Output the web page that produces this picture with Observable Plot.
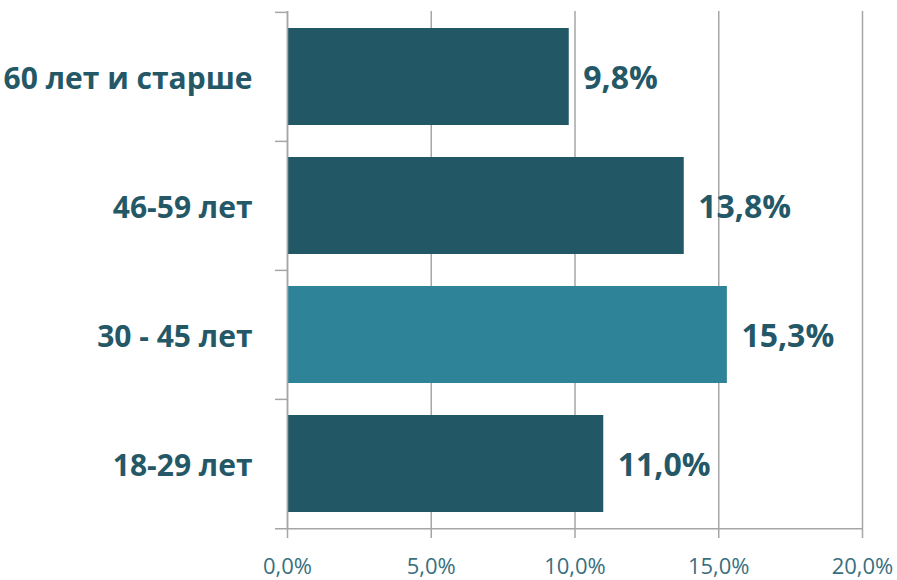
<!DOCTYPE html>
<html>
<head>
<meta charset="utf-8">
<script src="https://cdn.jsdelivr.net/npm/d3@7"></script>
<script src="https://cdn.jsdelivr.net/npm/@observablehq/plot@0.6"></script>
<style>
  html, body { margin: 0; padding: 0; background: #fff; }
  #chart { width: 897px; height: 580px; }
</style>
</head>
<body>
<div id="chart"></div>
<script>
const categories = ["60 лет и старше", "46-59 лет", "30 - 45 лет", "18-29 лет"];
const values = [9.8, 13.8, 15.3, 11.0];
const highlighted = [false, false, true, false];
const xTicks = [0, 5, 10, 15, 20];

const data = categories.map((c, i) => ({category: c, value: values[i], hi: highlighted[i]}));
const fmt = d => d.toFixed(1).replace(".", ",") + "%";

const W = 897, H = 580;
const mTop = 11, mBottom = 52, mLeft = 287, mRight = 35;
const step = (H - mTop - mBottom) / categories.length;

const chart = Plot.plot({
  width: W,
  height: H,
  marginTop: mTop,
  marginBottom: mBottom,
  marginLeft: mLeft,
  marginRight: mRight,
  style: {fontFamily: "'Open Sans', sans-serif", background: "#fff", overflow: "visible"},
  x: {domain: [0, 20]},
  y: {domain: categories, paddingInner: 0.25, paddingOuter: 0.125},
  marks: [
    Plot.gridX(xTicks, {stroke: "#a6a6a6", strokeOpacity: 1, strokeWidth: 1.5}),
    Plot.barX(data, {
      y: "category",
      x: "value",
      fill: d => d.hi ? "#2f8398" : "#225866"
    }),
    Plot.text(data, {
      y: "category",
      x: "value",
      text: d => fmt(d.value),
      textAnchor: "start",
      dx: 14,
      dy: 2,
      fontSize: 32,
      fontWeight: "bold",
      fill: "#245867"
    }),
    // y axis line
    Plot.ruleX([0], {stroke: "#a6a6a6", strokeWidth: 1.5}),
    // bottom axis line, extending left as a tick
    Plot.ruleY([categories[categories.length - 1]], {x1: 0, x2: 20, insetLeft: -12, dy: step / 2, stroke: "#a6a6a6", strokeWidth: 1.5}),
    // band boundary ticks on y axis
    Plot.ruleY(categories, {x1: 0, x2: 0, insetLeft: -12, dy: -step / 2, stroke: "#a6a6a6", strokeWidth: 1.5}),
    Plot.axisX({
      ticks: xTicks,
      tickFormat: fmt,
      tickSize: 10,
      tickPadding: 20,
      fontSize: 22,
      fill: "#3a6f7e",
      stroke: "#a6a6a6",
      strokeWidth: 1.5,
      label: null
    }),
    Plot.axisY({
      tickSize: 0,
      tickPadding: 35,
      fontSize: 30,
      fontWeight: "bold",
      fill: "#245867",
      dy: 2,
      label: null
    })
  ]
});
document.getElementById("chart").appendChild(chart);
</script>
</body>
</html>
